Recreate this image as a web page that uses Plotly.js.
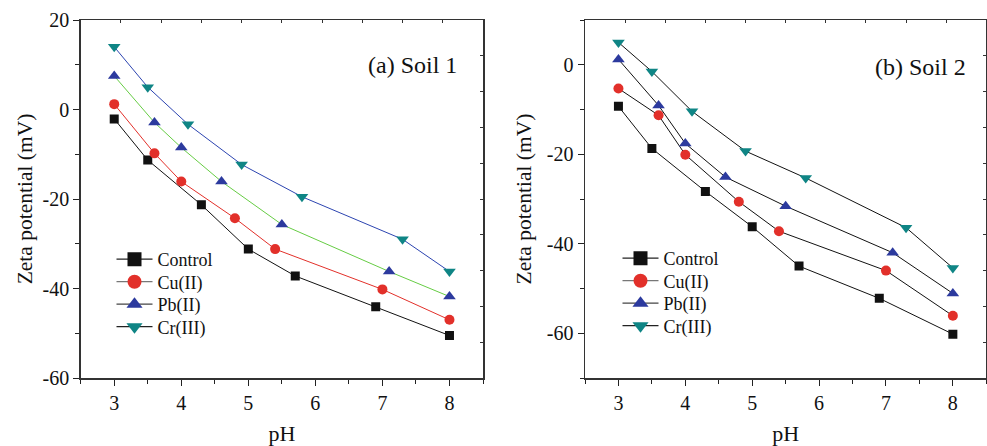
<!DOCTYPE html>
<html>
<head>
<meta charset="utf-8">
<script src="https://cdn.plot.ly/plotly-3.0.1.min.js"></script>
<style>html,body{margin:0;padding:0;background:#fff;}#chart{width:987px;height:446px;}</style>
</head>
<body>
<div id="chart"></div>
<script>
// pH values of each series
const pH_ctrl = [3, 3.5, 4.3, 5.0, 5.7, 6.9, 8];
const pH_cu   = [3, 3.6, 4.0, 4.8, 5.4, 7.0, 8];
const pH_pb   = [3, 3.6, 4.0, 4.6, 5.5, 7.1, 8];
const pH_cr   = [3, 3.5, 4.1, 4.9, 5.8, 7.3, 8];

// Soil 1 zeta potentials (mV)
const soil1_ctrl = [-2.1, -11.3, -21.3, -31.2, -37.2, -44.1, -50.5];
const soil1_cu   = [1.2, -9.8, -16.1, -24.3, -31.2, -40.2, -47.0];
const soil1_pb   = [7.5, -2.9, -8.5, -16.1, -25.7, -36.2, -41.8];
const soil1_cr   = [14.0, 5.0, -3.3, -12.3, -19.5, -29.0, -36.2];

// Soil 2 zeta potentials (mV)
const soil2_ctrl = [-9.3, -18.7, -28.3, -36.2, -45.0, -52.2, -60.2];
const soil2_cu   = [-5.3, -11.3, -20.1, -30.6, -37.2, -46.0, -56.1];
const soil2_pb   = [1.2, -9.1, -17.6, -25.1, -31.6, -42.0, -51.1];
const soil2_cr   = [5.0, -1.5, -10.4, -19.3, -25.3, -36.4, -45.4];

// tick labels
const xTickVals = [3, 4, 5, 6, 7, 8];
const xTickText = ['3', '4', '5', '6', '7', '8'];
const y1TickVals = [-60, -40, -20, 0, 20];
const y1TickText = ['-60', '-40', '-20', '0', '20'];
const y2TickVals = [-60, -40, -20, 0];
const y2TickText = ['-60', '-40', '-20', '0'];

const seriesNames = ['Control', 'Cu(II)', 'Pb(II)', 'Cr(III)'];
const panelLabels = ['(a) Soil 1', '(b) Soil 2'];
const xTitle = 'pH';
const yTitle = 'Zeta potential (mV)';

const symbols = ['square', 'circle', 'triangle-up', 'triangle-down'];
const markerColors = ['#111111', '#e2302a', '#2c3a9e', '#0f8585'];
const lineColors1 = ['#111111', '#e2302a', '#66cc44', '#2c44b0'];
const lineColors2 = ['#111111', '#111111', '#111111', '#111111'];
const legendLineColors = ['#222222', '#777777', '#444444', '#222222'];
const markerSizes = [9, 10, 11, 11];

const FONT = "'Liberation Serif', 'Times New Roman', serif";
const xs = [pH_ctrl, pH_cu, pH_pb, pH_cr];
const s1 = [soil1_ctrl, soil1_cu, soil1_pb, soil1_cr];
const s2 = [soil2_ctrl, soil2_cu, soil2_pb, soil2_cr];

const W = 987;
const traces = [];
for (let i = 0; i < 4; i++) {
  traces.push({x: xs[i], y: s1[i], xaxis: 'x', yaxis: 'y', mode: 'lines+markers', showlegend: false,
    line: {color: lineColors1[i], width: 1}, marker: {symbol: symbols[i], size: markerSizes[i], color: markerColors[i]}});
  traces.push({x: xs[i], y: s2[i], xaxis: 'x2', yaxis: 'y2', mode: 'lines+markers', showlegend: false,
    line: {color: lineColors2[i], width: 1}, marker: {symbol: symbols[i], size: markerSizes[i], color: markerColors[i]}});
}
// legend-only entries (no drawn points), one small legend per entry
const legends = {};
const legCenters1 = [260, 282.5, 305, 327.5];
const legCenters2 = [259, 281.5, 304, 326.5];
for (let i = 0; i < 4; i++) {
  const idA = 'legend' + (i === 0 ? '' : (i + 1));
  const idB = 'legend' + (i + 5);
  traces.push({x: [null], y: [null], xaxis: 'x', yaxis: 'y', mode: 'lines+markers', name: seriesNames[i], legend: idA,
    line: {color: legendLineColors[i], width: 1.2}, marker: {symbol: symbols[i], size: 14, color: markerColors[i]}});
  traces.push({x: [null], y: [null], xaxis: 'x2', yaxis: 'y2', mode: 'lines+markers', name: seriesNames[i], legend: idB,
    line: {color: legendLineColors[i], width: 1.2}, marker: {symbol: symbols[i], size: 14, color: markerColors[i]}});
  legends[idA] = {x: 111.5 / W, y: 1 - (legCenters1[i] - 19 - 20) / 358};
  legends[idB] = {x: 617.5 / W, y: 1 - (legCenters2[i] - 19 - 20) / 358};
}
// empty carriers so the frame axes (top / right) are drawn
[['x3', 'y'], ['x', 'y3'], ['x4', 'y2'], ['x2', 'y4']].forEach(function (p) {
  traces.push({x: [null], y: [null], xaxis: p[0], yaxis: p[1], mode: 'markers', showlegend: false, hoverinfo: 'skip'});
});

const dom1 = [80.7 / W, 483 / W];
const dom2 = [585 / W, 986.3 / W];

function xMain(dom) {
  return {domain: dom, range: [2.5, 8.5], tickmode: 'array', tickvals: xTickVals, ticktext: xTickText,
    ticks: 'outside', ticklen: 6, tickwidth: 1, tickcolor: '#222',
    minor: {dtick: 0.5, tick0: 0, ticks: 'outside', ticklen: 4, tickwidth: 1, tickcolor: '#222'},
    showline: true, linecolor: '#333', linewidth: 1.5, showgrid: false, zeroline: false,
    tickfont: {family: FONT, size: 20, color: '#111'},
    title: {text: xTitle, font: {family: FONT, size: 22, color: '#111'}, standoff: 20}};
}
function yMain(rng, anchor, tv, tt, so) {
  return {range: rng, anchor: anchor, tickmode: 'array', tickvals: tv, ticktext: tt,
    ticks: 'outside', ticklen: 6, tickwidth: 1, tickcolor: '#222',
    minor: {dtick: 10, tick0: 0, ticks: 'outside', ticklen: 4, tickwidth: 1, tickcolor: '#222'},
    showline: true, linecolor: '#333', linewidth: 1.5, showgrid: false, zeroline: false,
    tickfont: {family: FONT, size: 20, color: '#111'},
    title: {text: yTitle, font: {family: FONT, size: 21.5, color: '#111'}, standoff: so}};
}
function xTop(over, anchor) {
  return {overlaying: over, anchor: anchor, side: 'top', range: [0, 10], dtick: 1, tick0: 0, ticks: 'inside', ticklen: 3,
    tickcolor: '#333', showticklabels: false, showline: true, linecolor: '#333', linewidth: 1.5, showgrid: false, zeroline: false};
}
function yRight(over, anchor) {
  return {overlaying: over, anchor: anchor, side: 'right', range: [0, 10], dtick: 1, tick0: 0, ticks: 'inside', ticklen: 3,
    tickcolor: '#333', showticklabels: false, showline: true, linecolor: '#333', linewidth: 1.5, showgrid: false, zeroline: false};
}

const legendCommon = {bgcolor: 'rgba(0,0,0,0)', borderwidth: 0, font: {family: FONT, size: 18, color: '#111'},
  xanchor: 'left', yanchor: 'top', tracegroupgap: 0, itemwidth: 36};

const layout = {
  width: 987, height: 446,
  margin: {l: 0, r: 0, t: 20, b: 68},
  paper_bgcolor: '#fff', plot_bgcolor: '#fff',
  xaxis: xMain(dom1),
  yaxis: yMain([-60, 20], 'x', y1TickVals, y1TickText, 4),
  xaxis2: xMain(dom2),
  yaxis2: yMain([-70, 10], 'x2', y2TickVals, y2TickText, 9),
  xaxis3: xTop('x', 'y'),
  yaxis3: yRight('y', 'x'),
  xaxis4: xTop('x2', 'y2'),
  yaxis4: yRight('y2', 'x2'),
  annotations: [
    {text: panelLabels[0], xref: 'paper', yref: 'paper', x: 412 / W, y: 1 - (65 - 20) / 358, showarrow: false,
      xanchor: 'center', yanchor: 'middle', font: {family: FONT, size: 24, color: '#111'}},
    {text: panelLabels[1], xref: 'paper', yref: 'paper', x: 920 / W, y: 1 - (67 - 20) / 358, showarrow: false,
      xanchor: 'center', yanchor: 'middle', font: {family: FONT, size: 24, color: '#111'}}
  ],
  showlegend: true
};
Object.keys(legends).forEach(function (k) {
  layout[k] = Object.assign({}, legendCommon, legends[k]);
});

Plotly.newPlot('chart', traces, layout, {displayModeBar: false, staticPlot: true});
</script>
</body>
</html>
